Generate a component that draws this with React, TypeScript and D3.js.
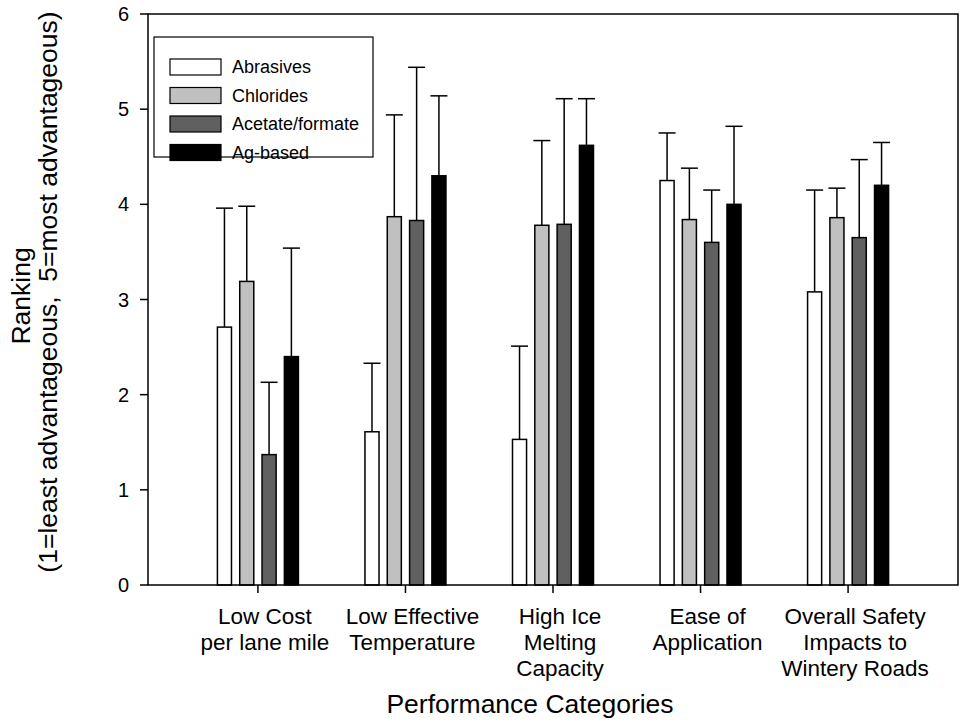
import React from 'react';
import * as d3 from 'd3';

// categories (one entry per line of the tick label)
const categories = [
  ['Low Cost', 'per lane mile'],
  ['Low Effective', 'Temperature'],
  ['High Ice', 'Melting', 'Capacity'],
  ['Ease of', 'Application'],
  ['Overall Safety', 'Impacts to', 'Wintery Roads'],
];

const seriesNames = ['Abrasives', 'Chlorides', 'Acetate/formate', 'Ag-based'];
const seriesColors = ['#ffffff', '#c0c0c0', '#606060', '#000000'];

// mean ranking per category
const abrasivesMean = [2.71, 1.61, 1.53, 4.25, 3.08];
const chloridesMean = [3.19, 3.87, 3.78, 3.84, 3.86];
const acetateMean = [1.37, 3.83, 3.79, 3.6, 3.65];
const agMean = [2.4, 4.3, 4.62, 4.0, 4.2];

// upper error (standard deviation)
const abrasivesErr = [1.25, 0.72, 0.98, 0.5, 1.07];
const chloridesErr = [0.79, 1.07, 0.89, 0.54, 0.31];
const acetateErr = [0.76, 1.61, 1.32, 0.55, 0.82];
const agErr = [1.14, 0.84, 0.49, 0.82, 0.45];

const yTicks = [0, 1, 2, 3, 4, 5, 6];

const means = [abrasivesMean, chloridesMean, acetateMean, agMean];
const errs = [abrasivesErr, chloridesErr, acetateErr, agErr];

const FONT = 'Liberation Sans, Arial, sans-serif';

function App() {
  const W = 960;
  const H = 727;
  const plot = { left: 148, right: 958, top: 14, bottom: 585 };

  const catKeys = categories.map(c => c.join(' '));
  const x = d3.scalePoint().domain(catKeys).range([plot.left, plot.right]).padding(0.745);
  const xInner = d3.scaleBand().domain(seriesNames).range([-40.5, 40.5]).paddingInner(0.37);
  const y = d3.scaleLinear().domain([0, 6]).range([plot.bottom, plot.top]);

  const bw = xInner.bandwidth();
  const capW = 17;

  return (
    <svg width={W} height={H} style={{ position: 'absolute', left: 0, top: 0, background: '#fff' }} fontFamily={FONT}>
      <rect x={0} y={0} width={W} height={H} fill="#fff" />

      {/* bars and error bars */}
      {seriesNames.map((s, si) => (
        <g key={s}>
          {catKeys.map((c, ci) => {
            const cx = x(c) + xInner(s) + bw / 2;
            const v = means[si][ci];
            const top = y(v + errs[si][ci]);
            return (
              <g key={c}>
                <line x1={cx} x2={cx} y1={y(v)} y2={top} stroke="#000" strokeWidth={1.5} />
                <line x1={cx - capW / 2} x2={cx + capW / 2} y1={top} y2={top} stroke="#000" strokeWidth={1.5} />
                <rect x={x(c) + xInner(s)} y={y(v)} width={bw} height={y(0) - y(v)}
                  fill={seriesColors[si]} stroke="#000" strokeWidth={1.5} />
              </g>
            );
          })}
        </g>
      ))}

      {/* frame */}
      <rect x={plot.left} y={plot.top} width={plot.right - plot.left} height={plot.bottom - plot.top}
        fill="none" stroke="#000" strokeWidth={1.5} />

      {/* y axis */}
      {yTicks.map(t => (
        <g key={t}>
          <line x1={plot.left - 8} x2={plot.left} y1={y(t)} y2={y(t)} stroke="#000" strokeWidth={1.5} />
          <text x={129} y={y(t)} dy="0.35em" textAnchor="end" fontSize={20}>{t}</text>
        </g>
      ))}

      {/* x axis */}
      {categories.map((lines, ci) => {
        const cx = x(catKeys[ci]);
        return (
          <g key={ci}>
            <line x1={cx} x2={cx} y1={plot.bottom} y2={plot.bottom + 8} stroke="#000" strokeWidth={1.5} />
            <text x={cx + 7} y={624} textAnchor="middle" fontSize={22.5}>
              {lines.map((l, li) => (
                <tspan key={li} x={cx + 7} dy={li === 0 ? 0 : 26}>{l}</tspan>
              ))}
            </text>
          </g>
        );
      })}

      {/* axis titles */}
      <text x={530} y={713} textAnchor="middle" fontSize={26.5}>Performance Categories</text>
      <text transform={`translate(30, 296) rotate(-90)`} textAnchor="middle" fontSize={26.5}>Ranking</text>
      <text transform={`translate(57, 292) rotate(-90)`} textAnchor="middle" fontSize={26.5} style={{ whiteSpace: 'pre' }}>
        (1=least advantageous,  5=most advantageous)
      </text>

      {/* legend */}
      <g>
        <rect x={154} y={37} width={219} height={120} fill="#fff" stroke="#000" strokeWidth={1.2} />
        {seriesNames.map((s, si) => (
          <g key={s} transform={`translate(0, ${67 + si * 28.5})`}>
            <rect x={170} y={-8} width={51} height={16} fill={seriesColors[si]} stroke="#000" strokeWidth={1.2} />
            <text x={232} y={0} dy="0.35em" fontSize={18}>{s}</text>
          </g>
        ))}
      </g>
    </svg>
  );
}

export default App;
